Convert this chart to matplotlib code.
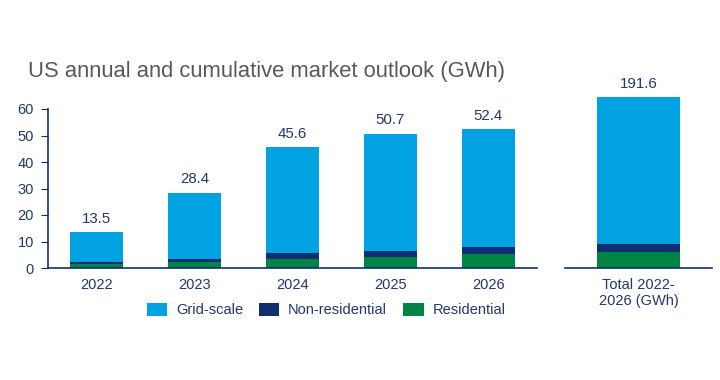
import numpy as np
import matplotlib
matplotlib.use('Agg')
import matplotlib.pyplot as plt

plt.rcParams['font.family'] = ['Liberation Sans', 'DejaVu Sans']

years = ['2022', '2023', '2024', '2025', '2026']
residential = [1.5, 2.3, 3.4, 4.2, 5.3]
non_residential = [0.8, 1.1, 2.3, 2.2, 2.6]
totals = [13.5, 28.4, 45.6, 50.7, 52.4]
grid_scale = [t - r - n for t, r, n in zip(totals, residential, non_residential)]

total_label = 'Total 2022-\n2026 (GWh)'
total_res = 17.9
total_nonres = 9.0
total_all = 191.6
total_grid = total_all - total_res - total_nonres

c_grid = '#00A2E1'
c_nonres = '#0F2F72'
c_res = '#008444'
c_text = '#22386A'

fig = plt.figure(figsize=(7.2, 3.8), dpi=100)

ax = fig.add_axes([48/720, 112/380, 489/720, 159/380])
x = np.arange(len(years))
w = 0.54
ax.bar(x, residential, w, color=c_res, label='Residential')
ax.bar(x, non_residential, w, bottom=residential, color=c_nonres, label='Non-residential')
bot = np.array(residential) + np.array(non_residential)
ax.bar(x, grid_scale, w, bottom=bot, color=c_grid, label='Grid-scale')
for xi, t in zip(x, totals):
    ax.text(xi, t + 2.5, f'{t:.1f}', ha='center', va='bottom', fontsize=10.8, color=c_text)
ax.set_xlim(-0.5, 4.5)
ax.set_ylim(0, 60)
ax.set_yticks(range(0, 61, 10))
ax.set_xticks(x)
ax.set_xticklabels(years)
for s in ['top', 'right']:
    ax.spines[s].set_visible(False)
for s in ['left', 'bottom']:
    ax.spines[s].set_color(c_nonres)
    ax.spines[s].set_linewidth(1.2)
ax.tick_params(axis='y', colors=c_text, labelsize=10.5, length=5, color=c_nonres, pad=5)
ax.tick_params(axis='x', colors=c_text, labelsize=10.5, length=0, pad=7)

ax2 = fig.add_axes([565/720, 112/380, 147/720, 178.5/380])
w2 = 0.56
ax2.bar([0], [total_res], w2, color=c_res)
ax2.bar([0], [total_nonres], w2, bottom=[total_res], color=c_nonres)
ax2.bar([0], [total_grid], w2, bottom=[total_res + total_nonres], color=c_grid)
ax2.text(0, total_all + 7, f'{total_all:.1f}', ha='center', va='bottom', fontsize=10.8, color=c_text)
ax2.set_xlim(-0.5, 0.5)
ax2.set_ylim(0, 200)
ax2.set_yticks([])
ax2.set_xticks([0])
ax2.set_xticklabels([total_label], linespacing=1.25)
for s in ['top', 'right', 'left']:
    ax2.spines[s].set_visible(False)
ax2.spines['bottom'].set_color(c_nonres)
ax2.spines['bottom'].set_linewidth(1.2)
ax2.tick_params(axis='x', colors=c_text, labelsize=10.5, length=0, pad=7)

fig.text(28/720, 1 - 72/380, 'US annual and cumulative market outlook (GWh)',
         fontsize=15.8, color='#595959', va='center', ha='left')

handles, labels = ax.get_legend_handles_labels()
order = [2, 1, 0]
fig.legend([handles[i] for i in order], [labels[i] for i in order],
           loc='center', bbox_to_anchor=(326/720, 1 - 310/380), ncol=3, frameon=False,
           fontsize=10.5, labelcolor=c_text, handlelength=1.4, handleheight=1.0,
           columnspacing=1.1, handletextpad=0.6)

fig.savefig('out.png', dpi=100)
